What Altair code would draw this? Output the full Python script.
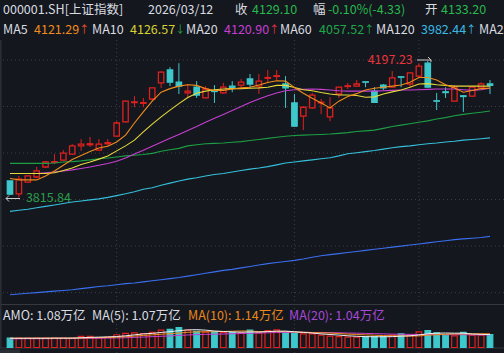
import altair as alt
import pandas as pd

# ---------------- data ----------------
opens = [3862, 3826, 3859, 3873, 3901, 3914, 3920, 3937, 3960, 3963,
         3948, 3966, 3987, 4027, 4081, 4079, 4091, 4136, 4172, 4138,
         4108, 4124, 4094, 4114, 4108, 4127, 4130, 4147, 4127, 4149,
         4154, 4133, 4080, 4043, 4066, 4080, 4041, 4105, 4126, 4127,
         4139, 4113, 4130, 4124, 4153, 4133, 4155, 4191, 4086, 4111,
         4085, 4100, 4099, 4122, 4133.20]
highs = [3863, 3876, 3878, 3901, 3918, 3937, 3948, 3965, 3979, 3985,
         3979, 3979, 4029, 4087, 4099, 4094, 4123, 4169, 4180, 4191,
         4133, 4141, 4127, 4130, 4136, 4141, 4147, 4161, 4161, 4172,
         4172, 4155, 4105, 4069, 4108, 4091, 4096, 4125, 4136, 4144,
         4139, 4124, 4133, 4169, 4153, 4166, 4191, 4197.23, 4108, 4124,
         4130, 4102, 4126, 4138, 4144]
lows = [3824, 3815.84, 3857, 3870, 3899, 3909, 3918, 3935, 3946, 3957,
        3946, 3960, 3985, 4025, 4068, 4068, 4085, 4122, 4127, 4105,
        4096, 4094, 4093, 4080, 4106, 4110, 4124, 4122, 4105, 4136,
        4144, 4066, 4013, 4004, 4063, 4049, 4029, 4094, 4119, 4126,
        4124, 4080, 4116, 4123, 4124, 4124, 4153, 4122, 4060, 4094,
        4084, 4055, 4097, 4120, 4105]
closes = [3825, 3867, 3876, 3890, 3915, 3916, 3940, 3960, 3965, 3966,
          3965, 3969, 4024, 4085, 4083, 4081, 4122, 4166, 4138, 4127,
          4113, 4102, 4119, 4112, 4124, 4122, 4138, 4133, 4141, 4151,
          4156, 4122, 4015, 4068, 4102, 4082, 4066, 4124, 4128, 4133,
          4138, 4082, 4122, 4150, 4152, 4164, 4183, 4124, 4085, 4109,
          4124, 4098, 4124, 4133.43, 4129.10]
ma5 = [3869, 3865, 3865, 3865, 3876, 3890, 3906, 3922, 3933, 3944,
       3954, 3959, 3971, 3990, 4024, 4055, 4085, 4110, 4120, 4127,
       4131, 4129, 4120, 4115, 4115, 4119, 4122, 4124, 4130, 4137,
       4142, 4141, 4123, 4107, 4093, 4080, 4066, 4085, 4098, 4106,
       4116, 4121, 4124, 4127, 4130, 4138, 4151, 4151, 4144, 4131,
       4122, 4110, 4115, 4120, 4121.29]
ma10 = [3883, 3883, 3883, 3883, 3883, 3885, 3891, 3898, 3908, 3915,
        3923, 3932, 3946, 3960, 3976, 3999, 4021, 4041, 4060, 4078,
        4095, 4107, 4113, 4117, 4119, 4120, 4120, 4121, 4122, 4124,
        4129, 4129, 4123, 4117, 4114, 4109, 4105, 4102, 4102, 4101,
        4096, 4097, 4105, 4111, 4116, 4124, 4133, 4134, 4131, 4129,
        4127, 4127, 4127, 4127, 4126.57]
ma20 = [3883, 3883, 3883, 3883, 3885, 3887, 3890, 3893, 3897, 3901,
        3906, 3911, 3917, 3926, 3937, 3948, 3959, 3970, 3981, 3992,
        4003, 4014, 4026, 4037, 4048, 4059, 4070, 4081, 4091, 4100,
        4108, 4114, 4117, 4118, 4119, 4118, 4116, 4114, 4113, 4113,
        4113, 4113, 4114, 4115, 4116, 4116, 4117, 4118, 4119, 4119,
        4119, 4117, 4115, 4117, 4120.90]
ma60 = [3911, 3911, 3911, 3911, 3911, 3912, 3915, 3916, 3918, 3921,
        3924, 3926, 3929, 3932, 3934, 3936, 3939, 3945, 3949, 3953,
        3960, 3963, 3966, 3967, 3968, 3970, 3972, 3975, 3978, 3981,
        3984, 3987, 3989, 3990, 3991, 3992, 3993, 3995, 3997, 4000,
        4002, 4004, 4009, 4014, 4018, 4022, 4026, 4030, 4035, 4039,
        4044, 4048, 4051, 4054, 4057.52]
ma120 = [3777, 3780, 3783, 3787, 3791, 3795, 3799, 3803, 3806, 3809,
         3812, 3816, 3821, 3826, 3832, 3839, 3843, 3850, 3856, 3862,
         3867, 3871, 3876, 3880, 3883, 3887, 3891, 3895, 3898, 3902,
         3907, 3912, 3915, 3918, 3921, 3924, 3927, 3932, 3938, 3941,
         3944, 3947, 3951, 3955, 3958, 3960, 3963, 3966, 3968, 3971,
         3973, 3976, 3978, 3980, 3982.44]
ma250 = [3544, 3546, 3548, 3550, 3552, 3554, 3556, 3558, 3561, 3564,
         3567, 3569, 3572, 3575, 3577, 3580, 3583, 3586, 3589, 3592,
         3596, 3600, 3604, 3608, 3612, 3615, 3619, 3623, 3627, 3631,
         3634, 3637, 3640, 3644, 3649, 3653, 3656, 3659, 3662, 3665,
         3668, 3671, 3674, 3677, 3680, 3683, 3686, 3689, 3692, 3695,
         3698, 3700, 3702, 3704, 3707]
vols = [0.78, 0.78, 0.77, 0.78, 0.78, 0.77, 0.78, 0.79, 0.92, 0.93,
        0.80, 0.86, 1.06, 1.18, 1.22, 1.15, 1.26, 1.45, 1.50, 1.66,
        1.45, 1.35, 1.28, 1.30, 1.25, 1.25, 1.22, 1.45, 1.22, 1.41,
        1.47, 1.25, 1.19, 1.13, 1.13, 1.02, 0.94, 0.91, 0.86, 0.86,
        0.91, 0.91, 0.91, 1.02, 1.13, 1.02, 1.30, 1.41, 1.22, 1.02,
        0.97, 1.25, 1.02, 1.02, 1.08]
vma5 = [0.77, 0.77, 0.77, 0.77, 0.77, 0.78, 0.78, 0.78, 0.81, 0.84,
        0.86, 0.88, 0.91, 0.97, 1.05, 1.13, 1.17, 1.25, 1.31, 1.40,
        1.46, 1.48, 1.44, 1.37, 1.33, 1.29, 1.27, 1.29, 1.28, 1.32,
        1.36, 1.36, 1.31, 1.25, 1.20, 1.13, 1.08, 1.03, 0.97, 0.93,
        0.90, 0.89, 0.89, 0.90, 0.94, 0.97, 1.04, 1.14, 1.19, 1.20,
        1.19, 1.19, 1.12, 1.09, 1.07]
vma10 = [0.76, 0.76, 0.76, 0.77, 0.77, 0.77, 0.77, 0.77, 0.78, 0.80,
         0.82, 0.83, 0.85, 0.89, 0.95, 1.00, 1.05, 1.10, 1.15, 1.20,
         1.26, 1.30, 1.30, 1.31, 1.33, 1.35, 1.37, 1.36, 1.32, 1.32,
         1.32, 1.32, 1.29, 1.27, 1.24, 1.22, 1.20, 1.16, 1.11, 1.08,
         1.05, 1.02, 0.99, 0.97, 0.97, 0.95, 0.96, 1.02, 1.06, 1.10,
         1.12, 1.13, 1.13, 1.14, 1.14]
vma20 = [0.72, 0.72, 0.73, 0.73, 0.73, 0.74, 0.74, 0.74, 0.75, 0.76,
         0.77, 0.78, 0.79, 0.81, 0.84, 0.87, 0.90, 0.93, 0.96, 1.00,
         1.04, 1.07, 1.09, 1.10, 1.12, 1.14, 1.16, 1.18, 1.20, 1.22,
         1.24, 1.25, 1.26, 1.26, 1.25, 1.25, 1.24, 1.22, 1.20, 1.19,
         1.17, 1.15, 1.13, 1.11, 1.10, 1.09, 1.08, 1.08, 1.07, 1.07,
         1.06, 1.06, 1.05, 1.05, 1.04]
grid_prices = [4200, 4070, 3940, 3810, 3680, 3550]
month_starts = [12, 32, 46]
hi_idx, hi_val = 47, 4197.23
lo_idx, lo_val = 1, 3815.84

n = len(opens)
df = pd.DataFrame({
    "i": list(range(n)), "open": opens, "high": highs, "low": lows,
    "close": closes, "ma5": ma5, "ma10": ma10, "ma20": ma20, "ma60": ma60,
    "ma120": ma120, "ma250": ma250, "vol": vols, "vma5": vma5,
    "vma10": vma10, "vma20": vma20,
})
df["up"] = df["close"] >= df["open"]

# ---------------- style ----------------
BG = "#14171d"
RED = "#e0201e"
CYAN = "#3ec8cc"
WHITE = "#d9dce0"
GREEN = "#27b84f"
GRID = "#3b3f47"
FONT = "Noto Sans CJK SC"
C5, C10, C20, C60, C120, C250 = "#f08c1c", "#e6d93a", "#c63fd2", "#1c9e44", "#35bfdc", "#3a6ff0"

xs = alt.Scale(domain=[0, n - 1], range=[5, 495])
ys = alt.Scale(domain=[3550, 4200], range=[292.6, 60])
vs = alt.Scale(domain=[0, 2], range=[347.5, 323.4])
X = alt.X("i:Q", scale=xs, axis=None)

base = alt.Chart(df)
one = pd.DataFrame({"a": [0]})

layers = []
# grid
layers.append(alt.Chart(pd.DataFrame({"p": grid_prices})).mark_rule(
    color=GRID, strokeDash=[1, 3], strokeWidth=1).encode(
    y=alt.Y("p:Q", scale=ys, axis=None), x=alt.value(3), x2=alt.value(504)))
layers.append(alt.Chart(pd.DataFrame({"i": month_starts})).mark_rule(
    color=GRID, strokeDash=[1, 3], strokeWidth=1).encode(
    x=X, y=alt.value(40), y2=alt.value(353)))
# panel separators / frame
layers.append(alt.Chart(one).mark_rule(color="#34383f", strokeWidth=1).encode(
    x=alt.value(0), x2=alt.value(504), y=alt.value(304.5)))
layers.append(alt.Chart(one).mark_rule(color="#34383f", strokeWidth=1).encode(
    x=alt.value(0), x2=alt.value(504), y=alt.value(348)))
layers.append(alt.Chart(one).mark_rule(color="#2c3038", strokeWidth=1.5).encode(
    x=alt.value(0.8), y=alt.value(40), y2=alt.value(348)))
layers.append(alt.Chart(one).mark_rect(color="#2a2e35").encode(
    x=alt.value(0), x2=alt.value(20), y=alt.value(349.5), y2=alt.value(353)))

updown_stroke = alt.condition("datum.up", alt.value(RED), alt.value(CYAN))
updown_fill = alt.condition("datum.up", alt.value(BG), alt.value(CYAN))

# candles
layers.append(base.mark_rule(strokeWidth=1).encode(
    x=X, y=alt.Y("low:Q", scale=ys, axis=None), y2="high:Q", color=updown_stroke))
layers.append(base.mark_bar(size=5.4, strokeWidth=1.3).encode(
    x=X, y=alt.Y("open:Q", scale=ys, axis=None), y2="close:Q",
    fill=updown_fill, stroke=updown_stroke))

# moving averages
for col, colr in [("ma250", C250), ("ma120", C120), ("ma60", C60),
                  ("ma20", C20), ("ma10", C10), ("ma5", C5)]:
    layers.append(base.mark_line(color=colr, strokeWidth=1.1).encode(
        x=X, y=alt.Y(f"{col}:Q", scale=ys, axis=None)))

# high / low labels
layers.append(alt.Chart(pd.DataFrame({"i": [hi_idx], "p": [hi_val]})).mark_text(
    align="right", baseline="middle", dx=-15, dy=-1, font=FONT, fontSize=12.5, color="#e8343a").encode(
    x=X, y=alt.Y("p:Q", scale=ys, axis=None), text=alt.Text("p:Q", format=".2f")))
layers.append(alt.Chart(pd.DataFrame({"i": [lo_idx], "p": [lo_val]})).mark_text(
    align="left", baseline="middle", dx=7, dy=1, font=FONT, fontSize=12.5, color="#2a9f4c").encode(
    x=X, y=alt.Y("p:Q", scale=ys, axis=None), text=alt.Text("p:Q", format=".2f")))
for (x1, y1, x2, y2) in [(417, 60, 431, 60), (428, 57, 431, 60), (431, 60, 431, 62),
                         (6, 198.5, 20, 198.5), (6, 198.5, 9, 195.5), (6, 198.5, 9, 201.5)]:
    layers.append(alt.Chart(one).mark_rule(color="#c8cacc", strokeWidth=1).encode(
        x=alt.value(x1), x2=alt.value(x2), y=alt.value(y1), y2=alt.value(y2)))

# volume
layers.append(base.mark_bar(size=5.6, strokeWidth=1.2).encode(
    x=X, y=alt.Y("vol:Q", scale=vs, axis=None), fill=updown_fill, stroke=updown_stroke))
for col, colr in [("vma20", C20), ("vma10", C5), ("vma5", "#eeeeee")]:
    layers.append(base.mark_line(color=colr, strokeWidth=1).encode(
        x=X, y=alt.Y(f"{col}:Q", scale=vs, axis=None)))


def txt(s, x, y, color, size=12.5, align="left"):
    return alt.Chart(one).mark_text(
        text=s, align=align, baseline="middle", font=FONT, fontSize=size, color=color
    ).encode(x=alt.value(x), y=alt.value(y))


texts = [
    ("000001.SH[上证指数]", 3, 10, WHITE), ("2026/03/12", 148, 10, WHITE),
    ("收", 235, 10, WHITE), ("4129.10", 252, 10, GREEN),
    ("幅", 313, 10, WHITE), ("-0.10%(-4.33)", 328, 10, GREEN),
    ("开", 425, 10, WHITE), ("4133.20", 441, 10, GREEN),
    ("MA5", 3, 30, WHITE), ("4121.29", 34, 30, C5),
    ("MA10", 92, 30, WHITE), ("4126.57", 130, 30, "#d8d232"),
    ("MA20", 186, 30, WHITE), ("4120.90", 224, 30, C20),
    ("MA60", 280, 30, WHITE), ("4057.52", 319, 30, "#1fa84a"),
    ("MA120", 376, 30, WHITE), ("3982.44", 421, 30, "#3ab8e2"),
    ("MA250", 479, 30, WHITE),
    ("AMO: 1.08万亿", 3, 316, WHITE), ("MA(5): 1.07万亿", 92, 316, WHITE),
    ("MA(10): 1.14万亿", 188, 316, "#e8871e"), ("MA(20): 1.04万亿", 289, 316, "#a848d8"),
]
for s, x, y, c in texts:
    layers.append(txt(s, x, y, c))

arrows = [("↑", 79, "#e8502a"), ("↓", 175, "#1fa84a"), ("↑", 269, "#e0304a"),
          ("↑", 364, "#1fa84a"), ("↑", 466, "#3ab8e2")]
for s, x, c in arrows:
    layers.append(txt(s, x, 30, c, size=10.5, align="left"))

chart = alt.layer(*layers).resolve_scale(y="independent").properties(
    width=504, height=353, padding=0, autosize=alt.AutoSizeParams(type="none"),
    background=BG,
).configure_view(stroke=None)

chart.save("out.html", embed_options={"renderer": "svg", "actions": False})
